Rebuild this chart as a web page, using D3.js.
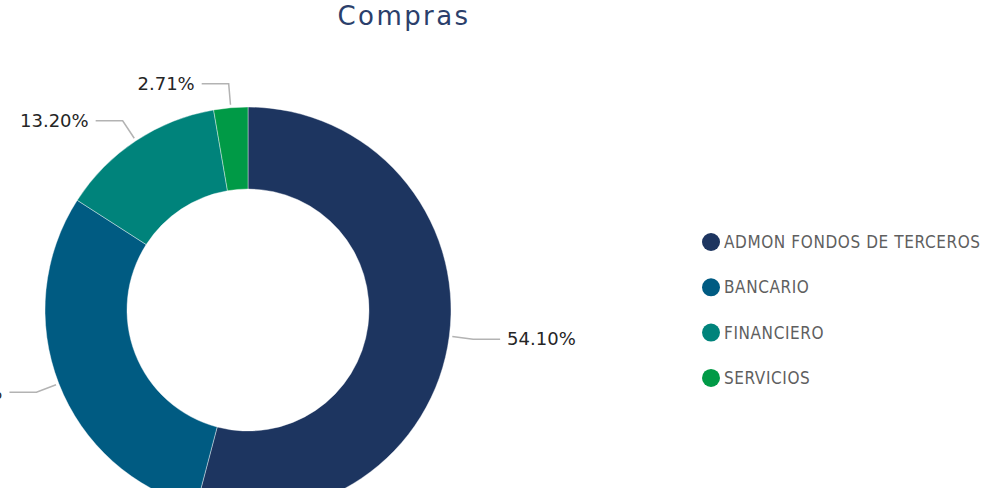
<!DOCTYPE html>
<html>
<head>
<meta charset="utf-8">
<script src="https://cdn.jsdelivr.net/npm/d3@7"></script>
<style>
  body { margin: 0; background: #fff; overflow: hidden; }
</style>
</head>
<body>
<div id="chart"></div>
<script>
const categories = ["ADMON FONDOS DE TERCEROS", "BANCARIO", "FINANCIERO", "SERVICIOS"];
const values = [54.10, 29.99, 13.20, 2.71];
const colors = ["#1d3560", "#005b82", "#00837b", "#009a46"];

const width = 990, height = 488;
const cx = 248, cy = 310;
const outerR = 203, innerR = 121;

const svg = d3.select("#chart")
    .append("svg")
    .attr("width", width)
    .attr("height", height);

svg.append("text")
    .attr("x", 404)
    .attr("y", 25)
    .attr("text-anchor", "middle")
    .style("font-family", "DejaVu Sans")
    .style("font-size", "26px")
    .style("letter-spacing", "2.4px")
    .style("fill", "#2b3f6b")
    .text("Compras");

const data = categories.map((c, i) => ({ name: c, value: values[i], color: colors[i] }));

const pie = d3.pie().sort(null).value(d => d.value);
const arc = d3.arc().innerRadius(innerR).outerRadius(outerR);
const arcs = pie(data);

const g = svg.append("g").attr("transform", `translate(${cx}, ${cy})`);

g.selectAll("path.slice")
    .data(arcs)
    .enter()
    .append("path")
    .attr("class", "slice")
    .attr("d", arc)
    .attr("fill", d => d.data.color)
    .attr("stroke", "#ffffff")
    .attr("stroke-width", 0.4);

// leader lines + labels
const lineStart = d3.arc().innerRadius(outerR + 3).outerRadius(outerR + 3);
const lineElbow = d3.arc().innerRadius(outerR + 24).outerRadius(outerR + 24);

arcs.forEach(d => {
    const p1 = lineStart.centroid(d);
    const p2 = lineElbow.centroid(d);
    const mid = (d.startAngle + d.endAngle) / 2;
    const right = mid < Math.PI;
    const p3 = [p2[0] + (right ? 27 : -27), p2[1]];

    g.append("polyline")
        .attr("points", [p1, p2, p3].map(p => p.join(",")).join(" "))
        .attr("fill", "none")
        .attr("stroke", "#b3b3b3")
        .attr("stroke-width", 1.5);

    g.append("text")
        .attr("x", p3[0] + (right ? 7 : -7))
        .attr("y", p3[1])
        .attr("dy", "0.35em")
        .attr("text-anchor", right ? "start" : "end")
        .style("font-family", "DejaVu Sans")
        .style("font-size", "18px")
        .style("fill", "#252525")
        .text(d.data.value.toFixed(2) + "%");
});

// legend
const legend = svg.append("g").attr("transform", "translate(711, 242)");
const items = legend.selectAll("g")
    .data(data)
    .enter()
    .append("g")
    .attr("transform", (d, i) => `translate(0, ${i * 45.3})`);

items.append("circle")
    .attr("r", 9)
    .attr("fill", d => d.color);

items.append("text")
    .attr("x", 13)
    .attr("dy", "0.36em")
    .style("font-family", "DejaVu Sans Condensed")
    .style("font-size", "17px")
    .style("letter-spacing", "0.6px")
    .style("font-weight", "500")
    .style("fill", "#5f5f5f")
    .text(d => d.name);
</script>
</body>
</html>
